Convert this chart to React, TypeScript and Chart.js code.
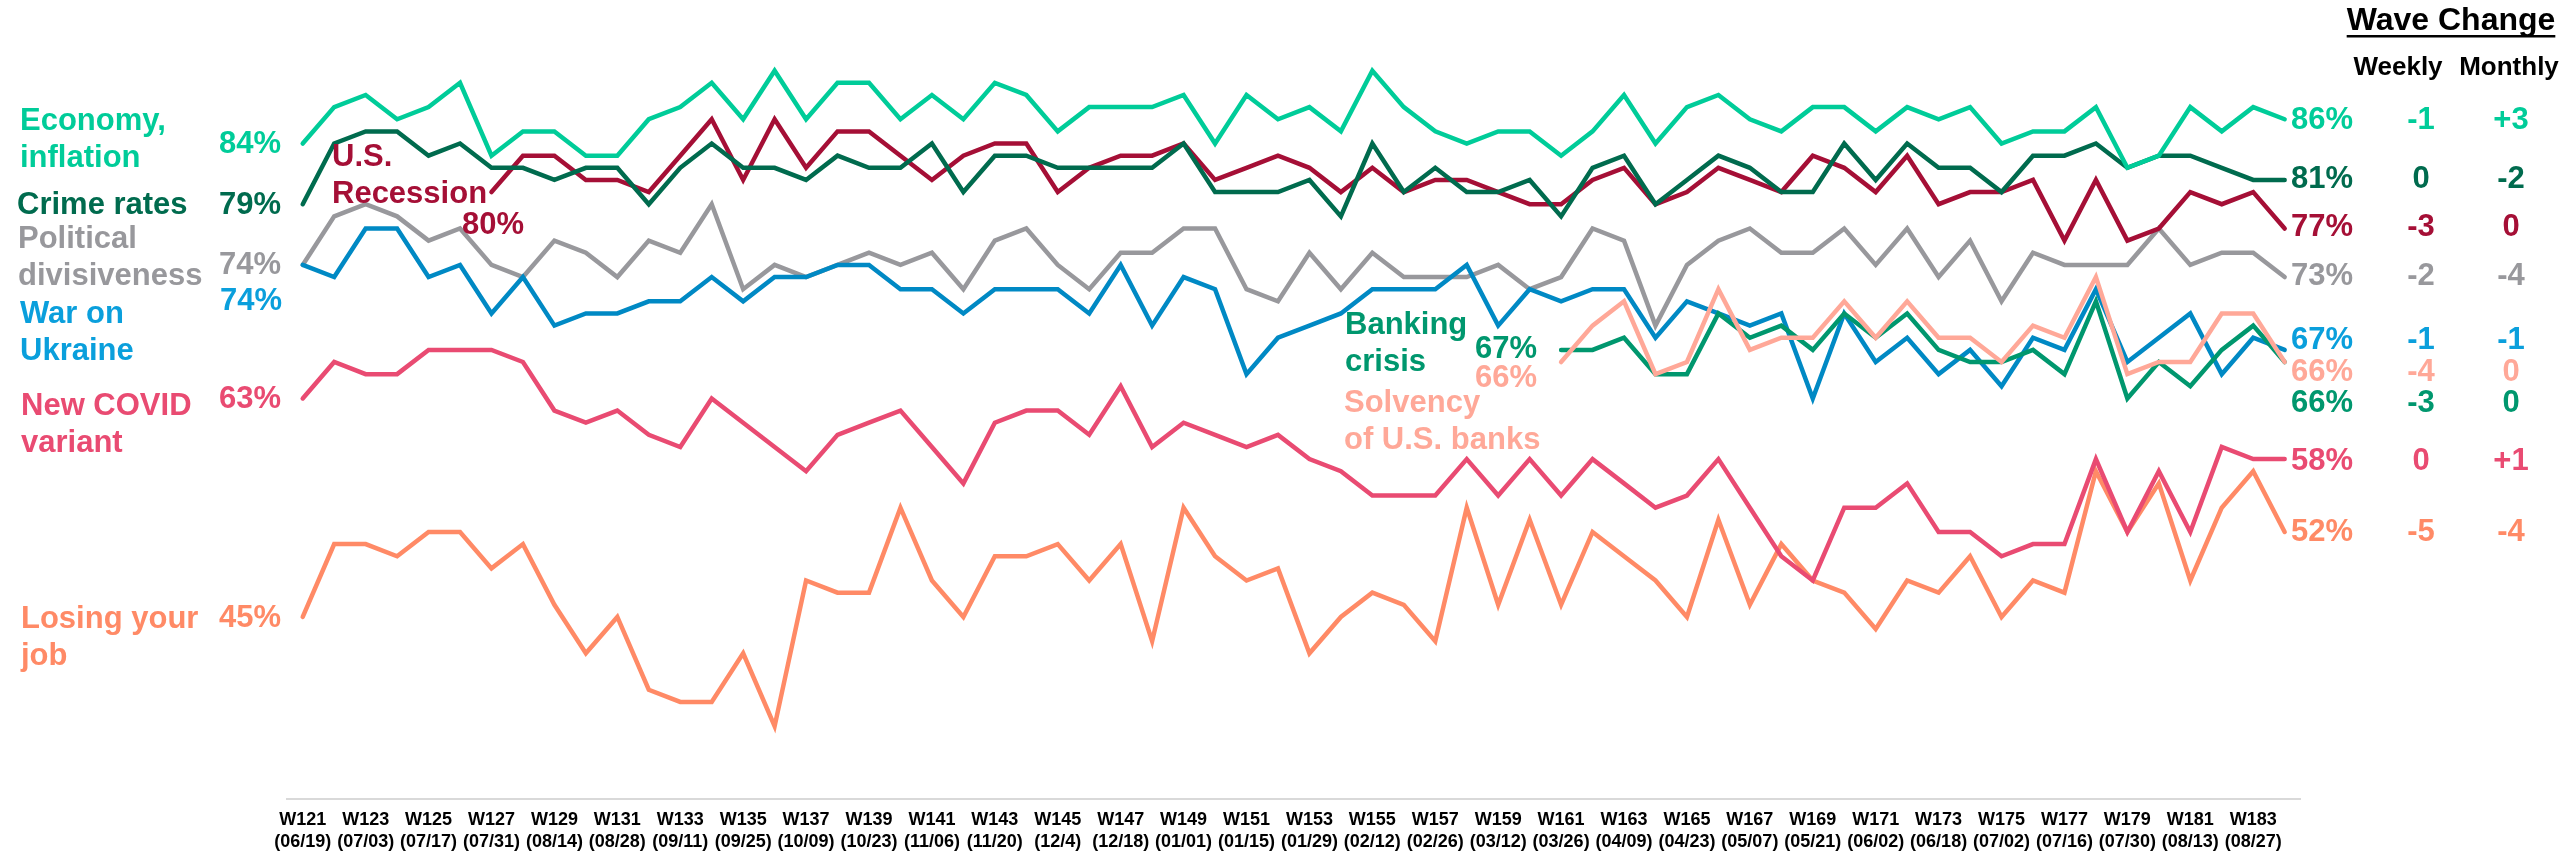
import React, { useEffect, useRef } from 'react';
import { Chart, registerables } from 'chart.js';

Chart.register(...registerables);

// ---------- DATA ----------
const weeks = [
  'W121', 'W122', 'W123', 'W124', 'W125', 'W126', 'W127', 'W128', 'W129', 'W130',
  'W131', 'W132', 'W133', 'W134', 'W135', 'W136', 'W137', 'W138', 'W139', 'W140',
  'W141', 'W142', 'W143', 'W144', 'W145', 'W146', 'W147', 'W148', 'W149', 'W150',
  'W151', 'W152', 'W153', 'W154', 'W155', 'W156', 'W157', 'W158', 'W159', 'W160',
  'W161', 'W162', 'W163', 'W164', 'W165', 'W166', 'W167', 'W168', 'W169', 'W170',
  'W171', 'W172', 'W173', 'W174', 'W175', 'W176', 'W177', 'W178', 'W179', 'W180',
  'W181', 'W182', 'W183', 'W184',
];

const tickDates = [
  '(06/19)', '(07/03)', '(07/17)', '(07/31)', '(08/14)', '(08/28)', '(09/11)', '(09/25)',
  '(10/09)', '(10/23)', '(11/06)', '(11/20)', '(12/4)', '(12/18)', '(01/01)', '(01/15)',
  '(01/29)', '(02/12)', '(02/26)', '(03/12)', '(03/26)', '(04/09)', '(04/23)', '(05/07)',
  '(05/21)', '(06/02)', '(06/18)', '(07/02)', '(07/16)', '(07/30)', '(08/13)', '(08/27)',
];

const economy = [
  84, 87, 88, 86, 87, 89, 83, 85, 85, 83, 83, 86, 87, 89, 86, 90, 86, 89, 89, 86,
  88, 86, 89, 88, 85, 87, 87, 87, 88, 84, 88, 86, 87, 85, 90, 87, 85, 84, 85, 85,
  83, 85, 88, 84, 87, 88, 86, 85, 87, 87, 85, 87, 86, 87, 84, 85, 85, 87, 82, 83,
  87, 85, 87, 86,
];

const crime = [
  79, 84, 85, 85, 83, 84, 82, 82, 81, 82, 82, 79, 82, 84, 82, 82, 81, 83, 82, 82,
  84, 80, 83, 83, 82, 82, 82, 82, 84, 80, 80, 80, 81, 78, 84, 80, 82, 80, 80, 81,
  78, 82, 83, 79, 81, 83, 82, 80, 80, 84, 81, 84, 82, 82, 80, 83, 83, 84, 82, 83,
  83, 82, 81, 81,
];

const recession = [
  null, null, null, null, null, null, 80, 83, 83, 81, 81, 80, 83, 86, 81, 86, 82, 85, 85, 83,
  81, 83, 84, 84, 80, 82, 83, 83, 84, 81, 82, 83, 82, 80, 82, 80, 81, 81, 80, 79,
  79, 81, 82, 79, 80, 82, 81, 80, 83, 82, 80, 83, 79, 80, 80, 81, 76, 81, 76, 77,
  80, 79, 80, 77,
];

const political = [
  74, 78, 79, 78, 76, 77, 74, 73, 76, 75, 73, 76, 75, 79, 72, 74, 73, 74, 75, 74,
  75, 72, 76, 77, 74, 72, 75, 75, 77, 77, 72, 71, 75, 72, 75, 73, 73, 73, 74, 72,
  73, 77, 76, 69, 74, 76, 77, 75, 75, 77, 74, 77, 73, 76, 71, 75, 74, 74, 74, 77,
  74, 75, 75, 73,
];

const ukraine = [
  74, 73, 77, 77, 73, 74, 70, 73, 69, 70, 70, 71, 71, 73, 71, 73, 73, 74, 74, 72,
  72, 70, 72, 72, 72, 70, 74, 69, 73, 72, 65, 68, 69, 70, 72, 72, 72, 74, 69, 72,
  71, 72, 72, 68, 71, 70, 69, 70, 63, 70, 66, 68, 65, 67, 64, 68, 67, 72, 66, 68,
  70, 65, 68, 67,
];

const covid = [
  63, 66, 65, 65, 67, 67, 67, 66, 62, 61, 62, 60, 59, 63, 61, 59, 57, 60, 61, 62,
  59, 56, 61, 62, 62, 60, 64, 59, 61, 60, 59, 60, 58, 57, 55, 55, 55, 58, 55, 58,
  55, 58, 56, 54, 55, 58, 54, 50, 48, 54, 54, 56, 52, 52, 50, 51, 51, 58, 52, 57,
  52, 59, 58, 58,
];

const job = [
  45, 51, 51, 50, 52, 52, 49, 51, 46, 42, 45, 39, 38, 38, 42, 36, 48, 47, 47, 54,
  48, 45, 50, 50, 51, 48, 51, 43, 54, 50, 48, 49, 42, 45, 47, 46, 43, 54, 46, 53,
  46, 52, 50, 48, 45, 53, 46, 51, 48, 47, 44, 48, 47, 50, 45, 48, 47, 57, 52, 56,
  48, 54, 57, 52,
];

const banking = [
  null, null, null, null, null, null, null, null, null, null,
  null, null, null, null, null, null, null, null, null, null,
  null, null, null, null, null, null, null, null, null, null,
  null, null, null, null, null, null, null, null, null, null,
  67, 67, 68, 65, 65, 70, 68, 69, 67, 70, 68, 70, 67, 66, 66, 67, 65, 71, 63, 66,
  64, 67, 69, 66,
];

const solvency = [
  null, null, null, null, null, null, null, null, null, null,
  null, null, null, null, null, null, null, null, null, null,
  null, null, null, null, null, null, null, null, null, null,
  null, null, null, null, null, null, null, null, null, null,
  66, 69, 71, 65, 66, 72, 67, 68, 68, 71, 68, 71, 68, 68, 66, 69, 68, 73, 65, 66,
  66, 70, 70, 66,
];

// Wave change columns (order: economy, crime, recession, political, ukraine, solvency, banking, covid, job)
const weeklyChange = ['-1', '0', '-3', '-2', '-1', '-4', '-3', '0', '-5'];
const monthlyChange = ['+3', '-2', '0', '-4', '-1', '0', '0', '+1', '-4'];

// ---------- STYLE ----------
const C = {
  economy: '#00CC99',
  crime: '#006B4E',
  recession: '#A50F36',
  political: '#98989C',
  ukraineLine: '#0089C4',
  ukraineText: '#0A9FDC',
  covid: '#E94B72',
  job: '#FF8A66',
  banking: '#00976E',
  solvency: '#FFA898',
};

const FONT = '"Liberation Sans", Arial, Helvetica, sans-serif';
const LINE_GAP = 37;

type Txt = { lines: string[]; x: number; y: number; color: string; align: CanvasTextAlign; size?: number };

const last = (a: (number | null)[]) => a[a.length - 1] as number;
const firstVal = (a: (number | null)[]) => a.find((v) => v !== null) as number;

const texts: Txt[] = [
  // left labels
  { lines: ['Economy,', 'inflation'], x: 20, y: 121, color: C.economy, align: 'left' },
  { lines: ['Crime rates'], x: 17, y: 205, color: C.crime, align: 'left' },
  { lines: ['Political', 'divisiveness'], x: 18, y: 239, color: C.political, align: 'left' },
  { lines: ['War on', 'Ukraine'], x: 20, y: 314, color: C.ukraineText, align: 'left' },
  { lines: ['New COVID', 'variant'], x: 21, y: 406, color: C.covid, align: 'left' },
  { lines: ['Losing your', 'job'], x: 21, y: 619, color: C.job, align: 'left' },
  // left values
  { lines: [`${firstVal(economy)}%`], x: 281, y: 144, color: C.economy, align: 'right' },
  { lines: [`${firstVal(crime)}%`], x: 281, y: 205, color: C.crime, align: 'right' },
  { lines: [`${firstVal(political)}%`], x: 281, y: 265, color: C.political, align: 'right' },
  { lines: [`${firstVal(ukraine)}%`], x: 282, y: 301, color: C.ukraineText, align: 'right' },
  { lines: [`${firstVal(covid)}%`], x: 281, y: 399, color: C.covid, align: 'right' },
  { lines: [`${firstVal(job)}%`], x: 281, y: 618, color: C.job, align: 'right' },
  // in-chart labels
  { lines: ['U.S.', 'Recession'], x: 332, y: 157, color: C.recession, align: 'left' },
  { lines: [`${firstVal(recession)}%`], x: 462, y: 225, color: C.recession, align: 'left' },
  { lines: ['Banking', 'crisis'], x: 1345, y: 325, color: C.banking, align: 'left' },
  { lines: [`${firstVal(banking)}%`], x: 1475, y: 349, color: C.banking, align: 'left' },
  { lines: [`${firstVal(solvency)}%`], x: 1475, y: 378, color: C.solvency, align: 'left' },
  { lines: ['Solvency', 'of U.S. banks'], x: 1344, y: 403, color: C.solvency, align: 'left' },
];

// right side rows: y positions per row
const rightRows = [
  { val: last(economy), y: 120, color: C.economy },
  { val: last(crime), y: 179, color: C.crime },
  { val: last(recession), y: 227, color: C.recession },
  { val: last(political), y: 276, color: C.political },
  { val: last(ukraine), y: 340, color: C.ukraineText },
  { val: last(solvency), y: 372, color: C.solvency },
  { val: last(banking), y: 403, color: C.banking },
  { val: last(covid), y: 461, color: C.covid },
  { val: last(job), y: 532, color: C.job },
];

const textPlugin = {
  id: 'customTexts',
  afterDraw(chart: any) {
    const ctx: CanvasRenderingContext2D = chart.ctx;
    ctx.save();
    ctx.textBaseline = 'middle';
    for (const t of texts) {
      ctx.font = `bold ${t.size ?? 31}px ${FONT}`;
      ctx.fillStyle = t.color;
      ctx.textAlign = t.align;
      t.lines.forEach((ln, k) => ctx.fillText(ln, t.x, t.y + k * LINE_GAP));
    }
    // right column
    rightRows.forEach((r, i) => {
      ctx.font = `bold 31px ${FONT}`;
      ctx.fillStyle = r.color;
      ctx.textAlign = 'left';
      ctx.fillText(`${r.val}%`, 2291, r.y);
      ctx.textAlign = 'center';
      ctx.fillText(weeklyChange[i], 2421, r.y);
      ctx.fillText(monthlyChange[i], 2511, r.y);
    });
    // header
    ctx.fillStyle = '#000000';
    ctx.textAlign = 'center';
    ctx.font = `bold 32px ${FONT}`;
    ctx.fillText('Wave Change', 2451, 21);
    const w = ctx.measureText('Wave Change').width;
    ctx.fillRect(2451 - w / 2, 35, w, 2.5);
    ctx.font = `bold 26px ${FONT}`;
    ctx.fillText('Weekly', 2398, 68);
    ctx.fillText('Monthly', 2509, 68);
    ctx.restore();
  },
};

function ds(label: string, data: (number | null)[], color: string) {
  return {
    label,
    data,
    borderColor: color,
    backgroundColor: color,
    borderWidth: 4.5,
    pointRadius: 0,
    pointHoverRadius: 0,
    tension: 0,
    fill: false,
    spanGaps: false,
    borderCapStyle: 'round' as const,
    borderJoinStyle: 'miter' as const,
  };
}

export default function App() {
  const ref = useRef<HTMLCanvasElement>(null);

  useEffect(() => {
    if (!ref.current) return;
    const chart = new Chart(ref.current, {
      type: 'line',
      data: {
        labels: weeks,
        datasets: [
          ds('Economy, inflation', economy, C.economy),
          ds('Crime rates', crime, C.crime),
          ds('U.S. Recession', recession, C.recession),
          ds('Solvency of U.S. banks', solvency, C.solvency),
          ds('Banking crisis', banking, C.banking),
          ds('War on Ukraine', ukraine, C.ukraineLine),
          ds('Political divisiveness', political, C.political),
          ds('New COVID variant', covid, C.covid),
          ds('Losing your job', job, C.job),
        ],
      },
      options: {
        responsive: false,
        animation: false,
        devicePixelRatio: 1,
        layout: { padding: { left: 287, right: 259.6, top: 10, bottom: 0 } },
        plugins: {
          legend: { display: false },
          tooltip: { enabled: false },
        },
        scales: {
          y: {
            display: false,
            min: 30,
            max: 95,
          },
          x: {
            offset: true,
            grid: { display: false, drawTicks: false },
            border: { display: true, color: '#D9D9D9', width: 2 },
            afterFit: (scale: any) => {
              scale.height = 55;
            },
            ticks: {
              autoSkip: false,
              maxRotation: 0,
              minRotation: 0,
              padding: 11,
              color: '#000000',
              font: { family: FONT, size: 18, weight: 'bold', lineHeight: 1.17 },
              callback: (_v: any, idx: number) =>
                idx % 2 === 0 ? [weeks[idx], tickDates[idx / 2]] : '',
            },
          },
        },
      },
      plugins: [textPlugin],
    });
    return () => chart.destroy();
  }, []);

  return (
    <div style={{ position: 'absolute', left: 0, top: 0, width: 2560, height: 854, background: '#ffffff' }}>
      <canvas ref={ref} width={2560} height={854} style={{ display: 'block', width: 2560, height: 854 }} />
    </div>
  );
}
